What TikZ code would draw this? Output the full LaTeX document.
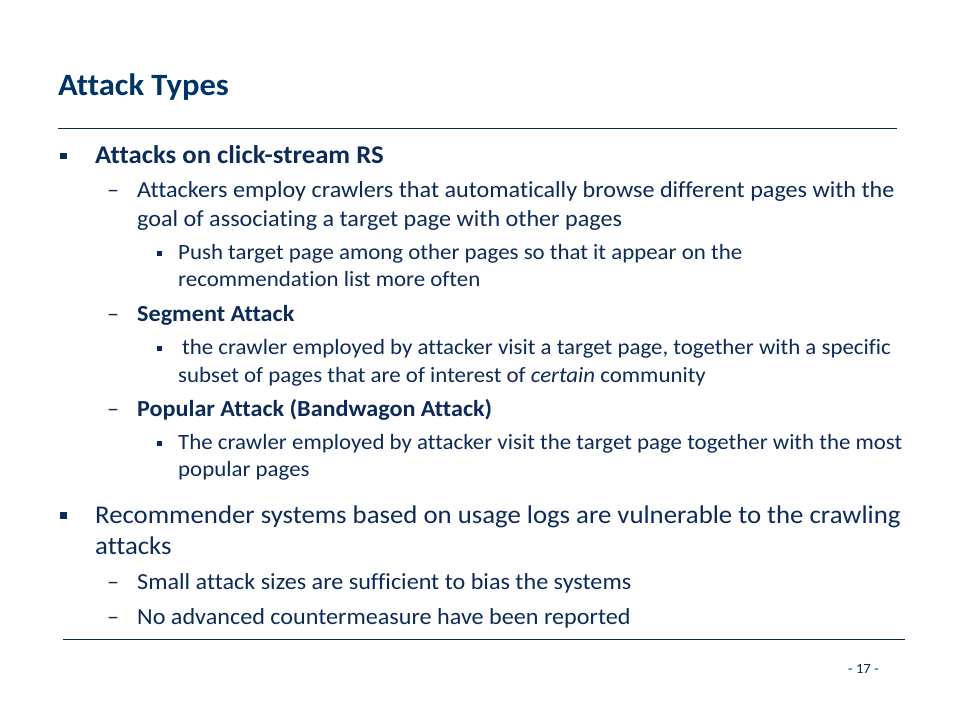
\documentclass[tikz,border=0pt]{standalone}
\usepackage{fontspec}
\setmainfont{Carlito}[FakeStretch=1.05,Ligatures=NoCommon]
\usetikzlibrary{positioning}
\definecolor{titleblue}{RGB}{0,51,102}
\definecolor{textblue}{RGB}{13,43,88}

\begin{document}
\begin{tikzpicture}[x=1pt,y=-1pt,
  every node/.style={inner sep=0pt,anchor=base west,text=textblue},
  title/.style={font=\fontsize{31}{37}\selectfont\bfseries,text=titleblue},
  lvlone/.style={font=\fontsize{25.5}{31}\selectfont},
  lvltwo/.style={font=\fontsize{23}{28}\selectfont},
  lvlthree/.style={font=\fontsize{21.8}{27}\selectfont},
  pagenum/.style={font=\fontsize{14}{17}\selectfont},
  sqone/.style={fill=textblue,minimum size=6.5pt,anchor=center},
  sqthree/.style={fill=textblue,minimum size=5pt,anchor=center},
  rule/.style={draw=textblue,line width=0.8pt}]
  \useasboundingbox[fill=white] (0,0) rectangle (960,720);

  % title and rules
  \node [title] (title) at (58,95.5) {Attack Types};
  \draw [rule] (58,128) -- (897,128);
  \draw [rule] (63,639.5) -- (905,639.5);
  \node [pagenum] (page) at (848,673) {- 17 -};

  % first block
  \node [sqone] (b1) at (63.5,156) {};
  \node [lvlone,font=\fontsize{25.5}{31}\selectfont\bfseries] (clk) at (95,163) {Attacks on click-stream RS};

  \node [lvltwo] (d1) at (107,197.5) {–};
  \node [lvltwo] (crawl) at (137,197.5) {Attackers employ crawlers that automatically browse different pages with the};
  \node [lvltwo] (crawlb) at (137,226) {goal of associating a target page with other pages};

  \node [sqthree] (b2) at (159.5,253) {};
  \node [lvlthree] (push) at (178,259.5) {Push target page among other pages so that it appear on the};
  \node [lvlthree] (pushb) at (178,286.5) {recommendation list more often};

  \node [lvltwo] (d2) at (107,321.5) {–};
  \node [lvltwo,font=\fontsize{23}{28}\selectfont\bfseries] (seg) at (137,321.5) {Segment Attack};

  \node [sqthree] (b3) at (159.5,348) {};
  \node [lvlthree] (segt) at (182,354.5) {the crawler employed by attacker visit a target page, together with a specific};
  \node [lvlthree] (segtb) at (178,382) {subset of pages that are of interest of \textit{certain} community};

  \node [lvltwo] (d3) at (107,416.5) {–};
  \node [lvltwo,font=\fontsize{23}{28}\selectfont\bfseries] (pop) at (137,416.5) {Popular Attack (Bandwagon Attack)};

  \node [sqthree] (b4) at (159.5,443) {};
  \node [lvlthree] (popt) at (178,449.5) {The crawler employed by attacker visit the target page together with the most};
  \node [lvlthree] (poptb) at (178,476.5) {popular pages};

  % second block
  \node [sqone] (b5) at (63.5,515.5) {};
  \node [lvlone] (rec) at (95,523.5) {Recommender systems based on usage logs are vulnerable to the crawling};
  \node [lvlone] (recb) at (95,554.5) {attacks};

  \node [lvltwo] (d4) at (107,589.5) {–};
  \node [lvltwo] (small) at (137,589.5) {Small attack sizes are sufficient to bias the systems};
  \node [lvltwo] (d5) at (107,624.5) {–};
  \node [lvltwo] (noadv) at (137,624.5) {No advanced countermeasure have been reported};
\end{tikzpicture}
\end{document}
